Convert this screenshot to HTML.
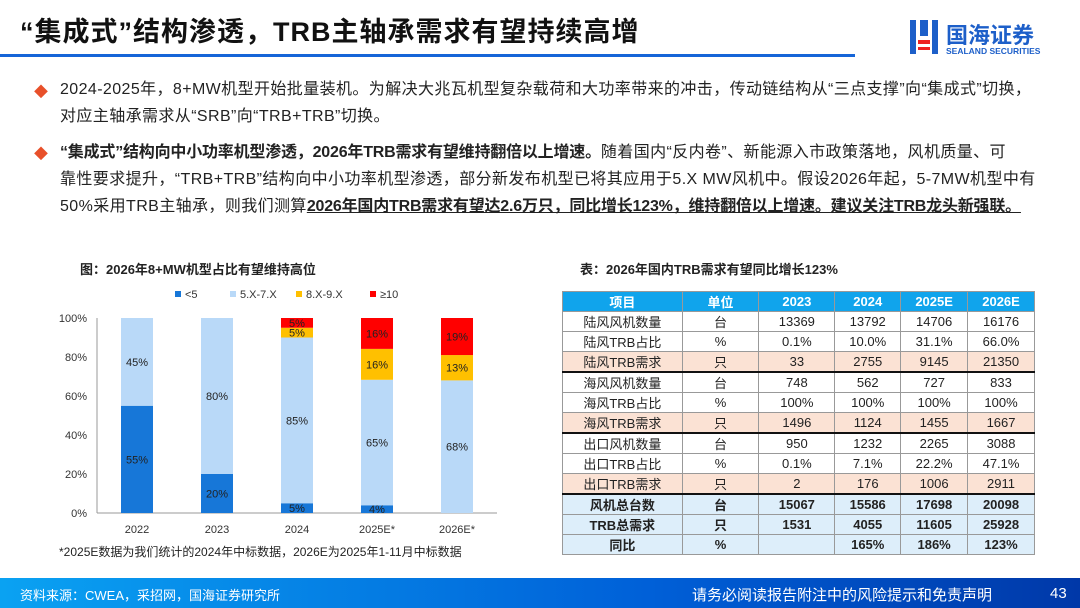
<!DOCTYPE html>
<html><head><meta charset="utf-8">
<style>
*{margin:0;padding:0;box-sizing:border-box}
body{width:1080px;height:608px;position:relative;background:#fff;font-family:"Liberation Sans","Noto Sans CJK SC",sans-serif;color:#222;overflow:hidden}
.abs{position:absolute}
.title{left:20px;top:10px;font-size:27px;font-weight:bold;color:#111;white-space:nowrap;letter-spacing:1px}
.bl{font-size:16px;line-height:27px;color:#222;white-space:nowrap;letter-spacing:0.4px}
.bl b{letter-spacing:-0.2px}
.dia{color:#e8502a;font-size:14px}
table{border-collapse:collapse;font-size:13px;text-align:center}
td,th{border:1px solid #999;height:20px;padding:0}
th{background:#10a4ec;color:#fff;font-weight:bold}
tr.hl td{background:#fbe2d4}
tr.sep td{border-bottom:2.5px solid #111}
tr.tot td{background:#ddeefa;font-weight:bold}
</style></head><body>
<div class="abs title">“集成式”结构渗透，TRB主轴承需求有望持续高增</div>
<div class="abs" style="left:0;top:54px;width:855px;height:3px;background:#1565d8"></div>
<div class="abs" style="left:906px;top:18px;width:160px;height:44px">
<svg width="36" height="40" style="position:absolute;left:2px;top:0"><rect x="2" y="2" width="6" height="34" fill="#1d5fc9"/><rect x="12" y="2" width="8" height="16" fill="#1d5fc9"/><rect x="24" y="2" width="6" height="34" fill="#1d5fc9"/><rect x="10" y="22" width="12" height="4" fill="#e22"/><rect x="10" y="29" width="12" height="3" fill="#e22"/></svg>
<div class="abs" style="left:40px;top:0;font-size:22px;font-weight:bold;color:#1d5fc9;white-space:nowrap">国海证券</div>
<div class="abs" style="left:40px;top:28px;font-size:8.5px;font-weight:bold;color:#1d5fc9;white-space:nowrap">SEALAND SECURITIES</div>
</div>
<div class="abs dia" style="left:34px;top:82px">◆</div>
<div class="abs bl" style="left:60px;top:76px">2024-2025年，8+MW机型开始批量装机。为解决大兆瓦机型复杂载荷和大功率带来的冲击，传动链结构从“三点支撑”向“集成式”切换，<br>对应主轴承需求从“SRB”向“TRB+TRB”切换。</div>
<div class="abs dia" style="left:34px;top:144px">◆</div>
<div class="abs bl" style="left:60px;top:139px"><b>“集成式”结构向中小功率机型渗透，2026年TRB需求有望维持翻倍以上增速。</b>随着国内“反内卷”、新能源入市政策落地，风机质量、可<br>靠性要求提升，“TRB+TRB”结构向中小功率机型渗透，部分新发布机型已将其应用于5.X MW风机中。假设2026年起，5-7MW机型中有<br>50%采用TRB主轴承，则我们测算<b style="text-decoration:underline">2026年国内TRB需求有望达2.6万只，同比增长123%，维持翻倍以上增速。建议关注TRB龙头新强联。</b></div>

<div class="abs" style="left:80px;top:259px;font-size:13px;font-weight:bold;white-space:nowrap">图：2026年8+MW机型占比有望维持高位</div>
<svg class="abs" style="left:0;top:280px" width="540" height="265" id="chart"></svg>
<div class="abs" style="left:59px;top:543px;font-size:12px;white-space:nowrap">*2025E数据为我们统计的2024年中标数据，2026E为2025年1-11月中标数据</div>

<div class="abs" style="left:580px;top:259px;font-size:13px;font-weight:bold;white-space:nowrap">表：2026年国内TRB需求有望同比增长123%</div>
<table class="abs" style="left:562px;top:291px;width:473px">
<colgroup><col style="width:120px"><col style="width:77px"><col style="width:76px"><col style="width:66px"><col style="width:67px"><col style="width:67px"></colgroup>
<tr><th>项目</th><th>单位</th><th>2023</th><th>2024</th><th>2025E</th><th>2026E</th></tr>
<tr><td>陆风风机数量</td><td>台</td><td>13369</td><td>13792</td><td>14706</td><td>16176</td></tr>
<tr><td>陆风TRB占比</td><td>%</td><td>0.1%</td><td>10.0%</td><td>31.1%</td><td>66.0%</td></tr>
<tr class="hl sep"><td>陆风TRB需求</td><td>只</td><td>33</td><td>2755</td><td>9145</td><td>21350</td></tr>
<tr><td>海风风机数量</td><td>台</td><td>748</td><td>562</td><td>727</td><td>833</td></tr>
<tr><td>海风TRB占比</td><td>%</td><td>100%</td><td>100%</td><td>100%</td><td>100%</td></tr>
<tr class="hl sep"><td>海风TRB需求</td><td>只</td><td>1496</td><td>1124</td><td>1455</td><td>1667</td></tr>
<tr><td>出口风机数量</td><td>台</td><td>950</td><td>1232</td><td>2265</td><td>3088</td></tr>
<tr><td>出口TRB占比</td><td>%</td><td>0.1%</td><td>7.1%</td><td>22.2%</td><td>47.1%</td></tr>
<tr class="hl sep"><td>出口TRB需求</td><td>只</td><td>2</td><td>176</td><td>1006</td><td>2911</td></tr>
<tr class="tot"><td>风机总台数</td><td>台</td><td>15067</td><td>15586</td><td>17698</td><td>20098</td></tr>
<tr class="tot"><td>TRB总需求</td><td>只</td><td>1531</td><td>4055</td><td>11605</td><td>25928</td></tr>
<tr class="tot"><td>同比</td><td>%</td><td></td><td>165%</td><td>186%</td><td>123%</td></tr>
</table>

<div class="abs" style="left:0;top:578px;width:1080px;height:30px;background:linear-gradient(90deg,#0aa2f2,#0060d8 60%,#0038a8)"></div>
<div class="abs" style="left:20px;top:585px;font-size:13px;color:#fff;white-space:nowrap">资料来源：CWEA，采招网，国海证券研究所</div>
<div class="abs" style="left:692px;top:584px;font-size:15px;color:#fff;white-space:nowrap">请务必阅读报告附注中的风险提示和免责声明</div>
<div class="abs" style="left:1050px;top:585px;font-size:15px;color:#fff">43</div>

<script>
const categories=["2022","2023","2024","2025E*","2026E*"];
const seriesNames=["<5","5.X-7.X","8.X-9.X","≥10"];
const lt5=[55,20,5,4,0];
const mid=[45,80,85,65,68];
const s89=[0,0,5,16,13];
const ge10=[0,0,5,16,19];
const yTicks=[0,20,40,60,80,100];
const colors=["#1777d8","#b9d9f8","#ffc000","#ff0000"];
const svg=document.getElementById('chart');
const NS="http://www.w3.org/2000/svg";
const x0=97,x1=497,yTop=38,yBot=233;
const y=v=>yBot-(v/100)*(yBot-yTop);
const band=(x1-x0)/categories.length;
const xc=i=>x0+band*(i+0.5);
function mk(t,a,txt){const e=document.createElementNS(NS,t);for(const k in a)e.setAttribute(k,a[k]);if(txt!==undefined)e.textContent=txt;svg.appendChild(e);return e;}
yTicks.forEach(t=>{const e=mk('text',{x:87,y:y(t)+4,'text-anchor':'end','font-size':11,fill:'#333'},t+'%');

});
const ax=mk('line',{x1:x0,x2:x1,y1:yBot,y2:yBot,stroke:'#999'});


const ay=mk('line',{x1:x0,x2:x0,y1:yTop,y2:yBot,stroke:'#999'});


const series=[lt5,mid,s89,ge10];
categories.forEach((c,i)=>{
  const l=mk('text',{x:xc(i),y:yBot+20,'text-anchor':'middle','font-size':11,fill:'#333'},c);
  
  
  const total=series.reduce((s,a)=>s+a[i],0)||1;
  const sc=100/Math.max(total,100);
  let acc=0;
  series.forEach((s,k)=>{
    const v=s[i];if(!v)return;
    const h=v*sc;
    const r=mk('rect',{x:xc(i)-16,y:y(acc+h),width:32,height:y(acc)-y(acc+h),fill:colors[k]});
    
    
    const t=mk('text',{x:xc(i),y:(y(acc)+y(acc+h))/2+4,'text-anchor':'middle','font-size':11,fill:'#222'},v+'%');
    
    
    acc+=h;
  });
});
const lx=[175,230,296,370];
seriesNames.forEach((n,k)=>{
  const r=mk('rect',{x:lx[k],y:11,width:6,height:6,fill:colors[k]});
  
  
  const t=mk('text',{x:lx[k]+10,y:18,'font-size':11,fill:'#333'},n);
  
  
});
</script>
</body></html>
